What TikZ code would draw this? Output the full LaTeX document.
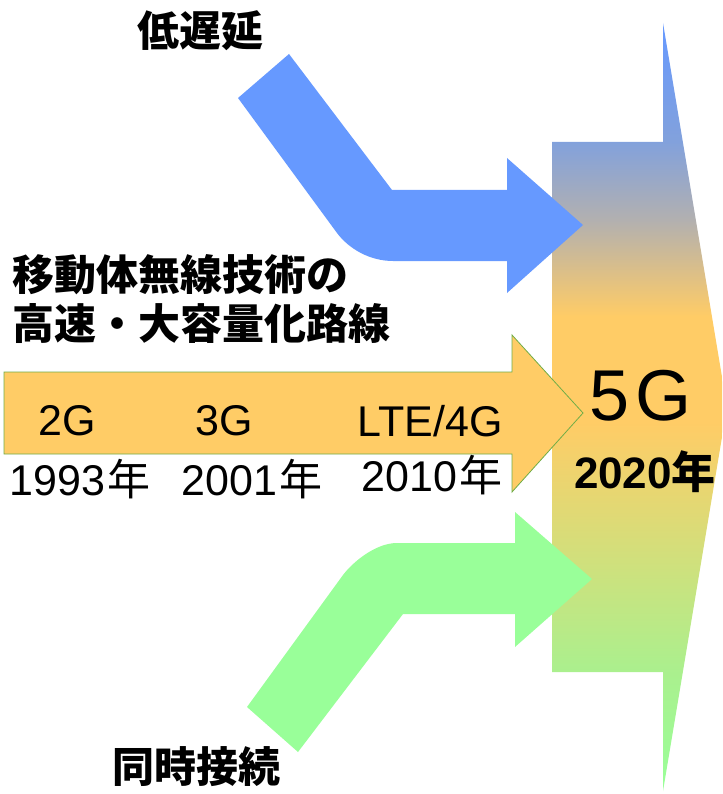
\documentclass[tikz,border=0pt]{standalone}
\usepackage{fontspec}
\setmainfont{Liberation Sans}
\newfontfamily\jp{Noto Sans CJK JP}
\usepackage{tikz}
\usetikzlibrary{positioning}
\definecolor{latblue}{HTML}{6699FF}
\definecolor{conngreen}{HTML}{99FF99}
\definecolor{speedorange}{HTML}{FFCC66}
\definecolor{edgegreen}{HTML}{70AD47}
\definecolor{fivegtop}{HTML}{82A1DC}
\definecolor{fivegmid}{HTML}{B2B0B0}
\definecolor{fivegbottom}{HTML}{AAF08E}
\pgfdeclareverticalshading{fivegshade}{100bp}{color(0bp)=(conngreen);
    color(25bp)=(conngreen); color(32.7bp)=(fivegbottom);
    color(49bp)=(speedorange); color(55.9bp)=(speedorange);
    color(62.2bp)=(fivegmid); color(67.3bp)=(fivegtop);
    color(75bp)=(latblue); color(100bp)=(latblue)}

\begin{document}
\begin{tikzpicture}[x=1pt, y=-1pt, inner sep=0pt,
    title/.style={font=\jp\bfseries\fontsize{42}{50}\selectfont},
    gen/.style={font=\fontsize{43}{50}\selectfont},
    big/.style={font=\fontsize{72}{80}\selectfont}]
    \useasboundingbox (0,0) rectangle (722,794);
    \clip (0,0) rectangle (722,794);
    % 5G arrow
    \shade[shading=fivegshade]
        (552,142) -- (663,142) -- (663,23) -- (727,407) -- (663,791)
        -- (663,672) -- (552,672) -- cycle;
    % low latency
    \fill[latblue] (238,98) -- (289,54) -- (392,190) -- (507,190) -- (507,158)
        -- (583,225) -- (507,293) -- (507,261) -- (393,261)
        .. controls (370,261) and (349,249) .. (337,233) -- cycle;
    % massive connection
    \fill[conngreen] (247,707) -- (298,752) -- (403,614) -- (515,614) -- (515,647)
        -- (592,579) -- (515,512) -- (515,543) -- (397,543)
        .. controls (375,543) and (352,563) .. (343,575) -- cycle;
    % speed / capacity
    \filldraw[fill=speedorange, draw=edgegreen, line width=0.8pt]
        (4,372) -- (512,372) -- (512,335) -- (583,413) -- (512,492)
        -- (512,454) -- (4,454) -- cycle;

    \node[title] (lowlat) at (200,31) {低遅延};
    \node[title, anchor=west] (speedA) at (12,275) {移動体無線技術の};
    \node[title, below=8pt of speedA.south west, anchor=north west] (speedB) {高速・大容量化路線};
    \node[title] (massconn) at (196,767) {同時接続};

    \node[gen] (gen2) at (67,421) {2G};
    \node[gen] (gen3) at (224,421) {3G};
    \node[gen] (gen4) at (430,421) {LTE/4G};
    \node[gen] (yr1993) at (80,479) {1993\kern2pt{\jp 年}};
    \node[gen] (yr2001) at (252,479) {2001\kern2pt{\jp 年}};
    \node[gen] (yr2010) at (432,475) {2010\kern2pt{\jp 年}};

    \node[big] (fiveg) at (641,396) {5\kern6pt G};
    \node[font=\bfseries\fontsize{44}{50}\selectfont] (yr2020) at (645,472) {2020{\jp 年}};
\end{tikzpicture}
\end{document}
